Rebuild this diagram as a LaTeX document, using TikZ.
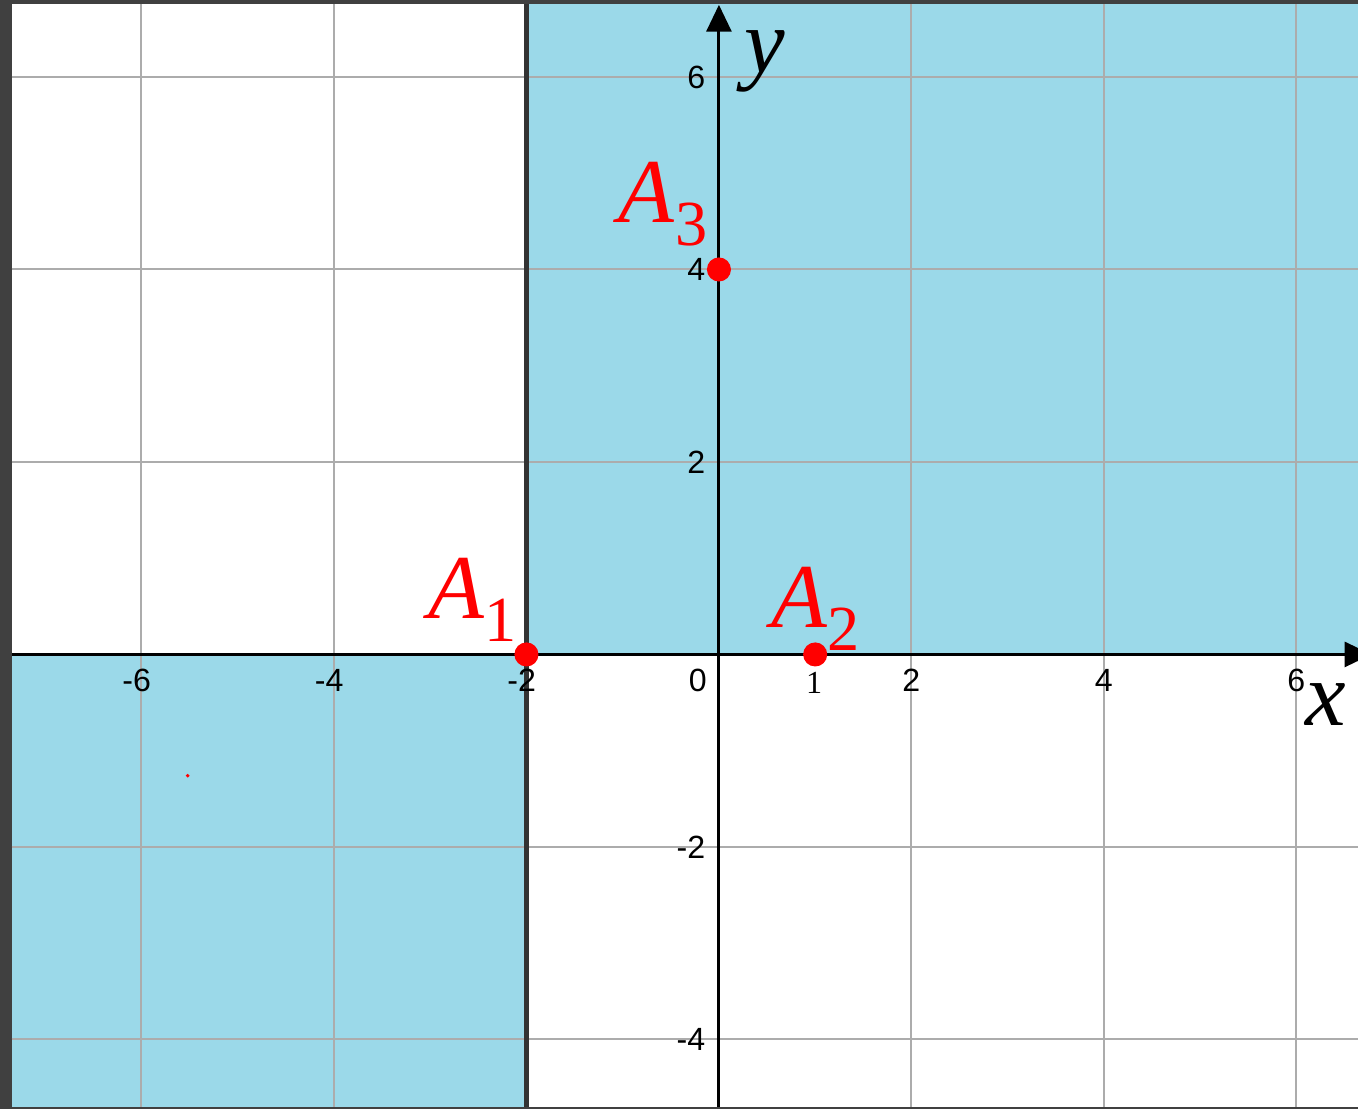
\documentclass[tikz,border=0pt]{standalone}
\usepackage{fontspec}
\setmainfont{Liberation Serif}
\newfontfamily\tickfont{Liberation Sans}
\usetikzlibrary{arrows.meta}
\definecolor{regionblue}{RGB}{155,217,233}
\definecolor{framegray}{RGB}{64,64,64}

\begin{document}
\begin{tikzpicture}[line width=0.8pt,>=Triangle,
  grid/.style={gray!65,line width=0.6pt},
  axis/.style={->,black,line width=0.9pt,>={Triangle[length=2.8mm,width=2.6mm]}},
  tick/.style={font=\tickfont\fontsize{9.5}{11}\selectfont,inner sep=0.5pt},
  pt/.style={circle,fill=red,inner sep=0pt,minimum size=2.5mm},
  lbl/.style={red,font=\fontsize{27}{30}\selectfont,inner sep=0pt}]
\useasboundingbox (-7.47,-4.72) rectangle (6.64,6.80);
% ---------- window ----------
\fill[framegray] (-7.47,-4.72) rectangle (6.64,6.80);
\fill[white] (-7.35,-4.70) rectangle (6.64,6.76);
% ---------- shaded regions ----------
\fill[regionblue] (-2,0) rectangle (6.64,6.76);
\fill[regionblue] (-7.35,-4.70) rectangle (-2,0);
% ---------- grid ----------
\foreach \gx in {-6,-4,2,4,6} \draw[grid] (\gx,-4.70) -- (\gx,6.76);
\foreach \gy in {-4,-2,2,4,6} \draw[grid] (-7.35,\gy) -- (6.64,\gy);
\draw[line width=1.5pt,black!80] (-2,-4.70) -- (-2,6.76);   % x = -2
% ---------- axes ----------
\coordinate (xl) at (-7.35,0);
\coordinate (xr) at (6.78,0);
\coordinate (yb) at (0,-4.70);
\coordinate (yt) at (0,6.75);
\draw[axis] (xl) -- (xr);
\draw[axis] (yb) -- (yt);
\node[font=\fontsize{27}{30}\selectfont\itshape,inner sep=0pt] (xlab) at (6.30,-0.52) {x};
\node[font=\fontsize{27}{30}\selectfont\itshape,inner sep=0pt] (ylab) at (0.48,6.16) {y};
% ---------- tick labels ----------
\foreach \v in {-6,-4,-2} \node[tick] (tx\v) at (\v-0.05,-0.27) {\v};
\foreach \v in {2,4,6} \node[tick] (tx\v) at (\v,-0.27) {\v};
\node[tick] (tx0) at (-0.22,-0.27) {0};
\node[font=\fontsize{9.5}{10}\selectfont,inner sep=0.5pt] (tx1) at (0.99,-0.30) {1};
\foreach \v in {6,4,2,-2,-4} \node[tick,anchor=east] (ty\v) at (-0.11,\v) {\v};
% ---------- points ----------
\node[pt] (A1) at (-2,0) {};
\node[pt] (A2) at (1,0) {};
\node[pt] (A3) at (0,4) {};
\node[lbl] (labA1) at (-2.56,0.57) {\textit{A}\raisebox{-0.25em}{\fontsize{19}{20}\selectfont 1}};
\node[lbl] (labA2) at (1.00,0.47) {\textit{A}\raisebox{-0.25em}{\fontsize{19}{20}\selectfont 2}};
\node[lbl] (labA3) at (-0.58,4.68) {\textit{A}\raisebox{-0.25em}{\fontsize{19}{20}\selectfont 3}};
\fill[red] (-5.52,-1.26) circle (0.02);   % stray mark
\end{tikzpicture}
\end{document}
